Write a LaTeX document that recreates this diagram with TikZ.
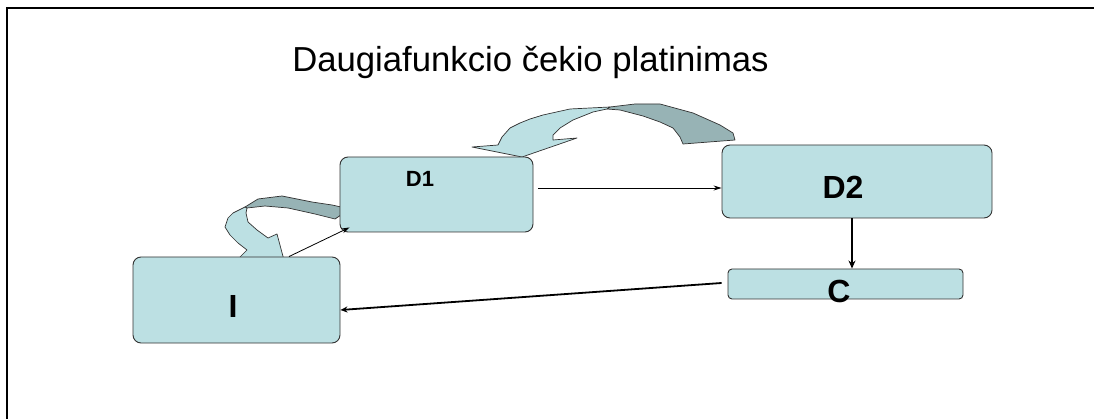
\documentclass[tikz,border=0pt]{standalone}
\usepackage{fontspec}
\setmainfont{Liberation Sans}
\usetikzlibrary{arrows.meta}
\definecolor{boxfill}{RGB}{188,224,227}
\definecolor{bandfill}{RGB}{151,179,181}
\definecolor{edgecol}{RGB}{50,50,50}
\tikzset{
  pbox/.style={draw=edgecol, line width=0.9pt, fill=boxfill, rounded corners=8pt, inner sep=0pt},
  band/.style={draw=edgecol, line width=0.7pt, line join=round},
  lbl/.style={font=\bfseries, anchor=base, inner sep=0pt},
  thinarrow/.style={draw=black, line width=0.8pt, -{Stealth[length=8pt,width=5pt]}},
  thickarrow/.style={draw=black, line width=2.6pt, -{Stealth[length=8pt,width=7pt]}},
  medarrow/.style={draw=black, line width=1.8pt, -{Stealth[length=7pt,width=6pt,open]}}
}
\begin{document}
\begin{tikzpicture}[x=1pt,y=-1pt]
\useasboundingbox (0,0) rectangle (1094,419);
% frame
\draw[line width=2pt] (7,419) -- (7,8) -- (1094,8);
% title
\node[anchor=base, inner sep=0pt, font=\fontsize{34.7}{40}\selectfont] (title) at (530.5,72) {Daugiafunkcio čekio platinimas};
% small curved arrow (back band)
\draw[band, fill=bandfill] (245,207) -- (258,199) -- (282,196) -- (312,202) -- (332,205) -- (350,209) -- (335,219) -- (315,214) -- (288,208) -- (265,206) -- (247,208) -- cycle;
% small curved arrow (front with head)
\draw[band, fill=boxfill] (245,207) -- (233,213) -- (228,218) -- (225,227) -- (230,235) -- (238,243) -- (247,250) -- (238,259) -- (288,275) -- (277,234) -- (268,238) -- (257,230) -- (248,222) -- (246,213) -- (247,208) -- cycle;
% big curved arrow (back band)
\draw[band, fill=bandfill] (610,107) -- (635,104) -- (660,104) -- (693,113) -- (720,125) -- (733,133) -- (735,140) -- (683,144) -- (680,137) -- (673,128) -- (660,122) -- (643,116) -- (620,110) -- (607,109) -- cycle;
% big curved arrow (front with head)
\draw[band, fill=boxfill] (610,107) -- (570,109) -- (543,115) -- (530,119) -- (520,123) -- (510,128) -- (502,137) -- (498,145) -- (472,147) -- (522,157) -- (577,138) -- (553,140) -- (553,135) -- (560,128) -- (573,120) -- (593,112) -- (607,109) -- cycle;
% boxes
\node[pbox, minimum width=207pt, minimum height=86pt] (I) at (236.5,300) {};
\node[pbox, minimum width=193pt, minimum height=75pt] (D1) at (436.5,194.5) {};
\node[pbox, minimum width=270pt, minimum height=73pt] (D2) at (857,181.5) {};
\node[pbox, minimum width=235pt, minimum height=30pt, rounded corners=4pt] (C) at (845.5,284) {};
% labels
\node[lbl, font=\fontsize{22}{26}\selectfont\bfseries] (tD1) at (420,187) {D1};
\node[lbl, font=\fontsize{32}{38}\selectfont\bfseries] (tD2) at (843,199) {D2};
\node[lbl, font=\fontsize{32}{38}\selectfont\bfseries] (tC) at (839,302) {C};
\node[lbl, font=\fontsize{32}{38}\selectfont\bfseries] (tI) at (233,317) {I};
% connectors
\draw[thinarrow] ([shift={(5pt,6.5pt)}]D1.east) coordinate (a1) -- (a1 -| D2.west);
\draw[thinarrow] ([xshift=52.5pt]I.north) -- ([shift={(10pt,5pt)}]D1.south west);
\draw[thickarrow] ([xshift=-5pt]D2.south) coordinate (a2) -- (a2 |- C.north);
\draw[medarrow] ([xshift=-6pt,yshift=1pt]C.west) -- ([yshift=-10pt]I.east);
\end{tikzpicture}
\end{document}
